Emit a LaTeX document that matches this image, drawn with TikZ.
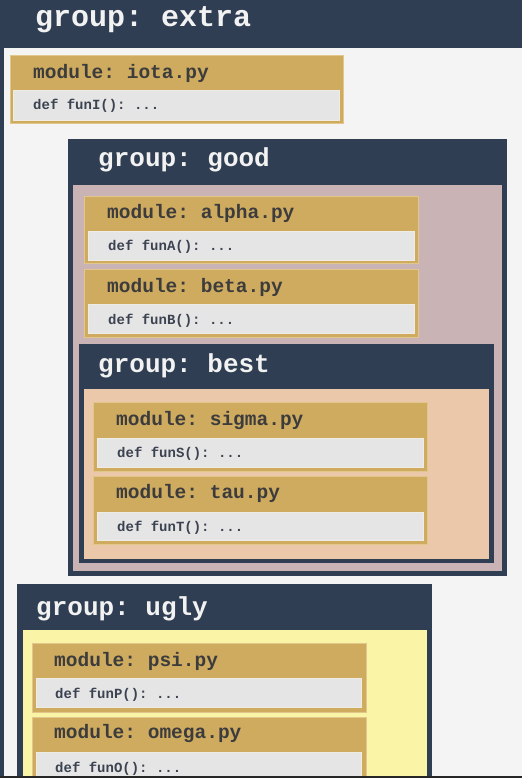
\documentclass[tikz,border=0pt]{standalone}
\usepackage{fontspec}
\setmonofont{Liberation Mono}
\usepackage{tikz}
\usetikzlibrary{positioning}
\definecolor{navy}{HTML}{2F3E52}
\definecolor{extrabg}{HTML}{F4F4F4}
\definecolor{gold}{HTML}{CFAB60}
\definecolor{goldedge}{HTML}{E2C78C}
\definecolor{funbg}{HTML}{E5E5E5}
\definecolor{funedge}{HTML}{EFECE4}
\definecolor{goodbg}{HTML}{C9B3B4}
\definecolor{bestbg}{HTML}{ECC8AB}
\definecolor{uglybg}{HTML}{FAF4A6}
\definecolor{titlewhite}{HTML}{F2F2F2}
\definecolor{modtext}{HTML}{3C3C3C}
\definecolor{funtext}{HTML}{3B4250}

\begin{document}
\begin{tikzpicture}[x=1pt,y=-1pt]
                    \tikzstyle{every node}+=[inner sep=0pt, anchor=base west]
                    \tikzstyle{grouptitle}=[text=titlewhite, font=\ttfamily\bfseries\fontsize{26}{26}\selectfont]
                    \tikzstyle{modtitle}=[text=modtext, font=\ttfamily\bfseries\fontsize{19.5}{20}\selectfont]
                    \tikzstyle{funline}=[text=funtext, font=\ttfamily\bfseries\fontsize{14}{14}\selectfont]
                    \tikzstyle{modbox}=[fill=gold, draw=goldedge, line width=1pt]
                    \tikzstyle{funbox}=[fill=funbg, draw=funedge, line width=0.8pt]
                    \useasboundingbox (0,0) rectangle (522,778);
                    % group: extra
                    \fill [navy] (0,0) rectangle (522,778);
                    \fill [extrabg] (3.5,48) rectangle (522,776);
                    \fill [black!85] (0,776) rectangle (522,778);
                    \draw (35,27) node (extratitle) [grouptitle, font=\ttfamily\bfseries\fontsize{30}{30}\selectfont] {group: extra};
                    \draw [modbox] (10,55.5) rectangle (343,123.5);
                    \draw (33,79) node (iotatitle) [modtitle] {module: iota.py};
                    \draw [funbox] (13.5,90.5) rectangle (339.5,120);
                    \draw (33,110) node (iotafun) [funline] {def funI(): ...};
                    % group: good
                    \fill [navy] (67.5,139) rectangle (506.5,576);
                    \fill [goodbg] (73,185) rectangle (501.5,571);
                    \draw (98,167) node (goodtitle) [grouptitle] {group: good};
                    \draw [modbox] (84,196) rectangle (418,263);
                    \draw (107,218) node (alphatitle) [modtitle] {module: alpha.py};
                    \draw [funbox] (88,231) rectangle (414,260);
                    \draw (108,250.5) node (alphafun) [funline] {def funA(): ...};
                    \draw [modbox] (84,269) rectangle (418,337);
                    \draw (107,292) node (betatitle) [modtitle] {module: beta.py};
                    \draw [funbox] (88,304) rectangle (414,333);
                    \draw (108,324) node (betafun) [funline] {def funB(): ...};
                    % group: best
                    \fill [navy] (78.5,343.5) rectangle (493.5,563);
                    \fill [bestbg] (84,389) rectangle (488.5,558.5);
                    \draw (98,372) node (besttitle) [grouptitle] {group: best};
                    \draw [modbox] (93,402) rectangle (427,471.5);
                    \draw (116,425) node (sigmatitle) [modtitle] {module: sigma.py};
                    \draw [funbox] (97,438) rectangle (423,467);
                    \draw (117,457) node (sigmafun) [funline] {def funS(): ...};
                    \draw [modbox] (93,476) rectangle (427,544);
                    \draw (116,498) node (tautitle) [modtitle] {module: tau.py};
                    \draw [funbox] (97,512) rectangle (423,540);
                    \draw (117,531) node (taufun) [funline] {def funT(): ...};
                    % group: ugly
                    \fill [navy] (17,584) rectangle (432,776);
                    \fill [uglybg] (23,630) rectangle (427,776);
                    \draw (36,615) node (uglytitle) [grouptitle] {group: ugly};
                    \draw [modbox] (32,643) rectangle (366,712);
                    \draw (54,666) node (psititle) [modtitle] {module: psi.py};
                    \draw [funbox] (36,678) rectangle (361,707);
                    \draw (55,698) node (psifun) [funline] {def funP(): ...};
                    \draw [modbox] (32,717) rectangle (366,780);
                    \draw (54,738) node (omegatitle) [modtitle] {module: omega.py};
                    \draw [funbox] (36,752) rectangle (361,780);
                    \draw (55,772) node (omegafun) [funline] {def funO(): ...};
                    \fill [black!85] (0,776) rectangle (522,778);
                \end{tikzpicture}
\end{document}
